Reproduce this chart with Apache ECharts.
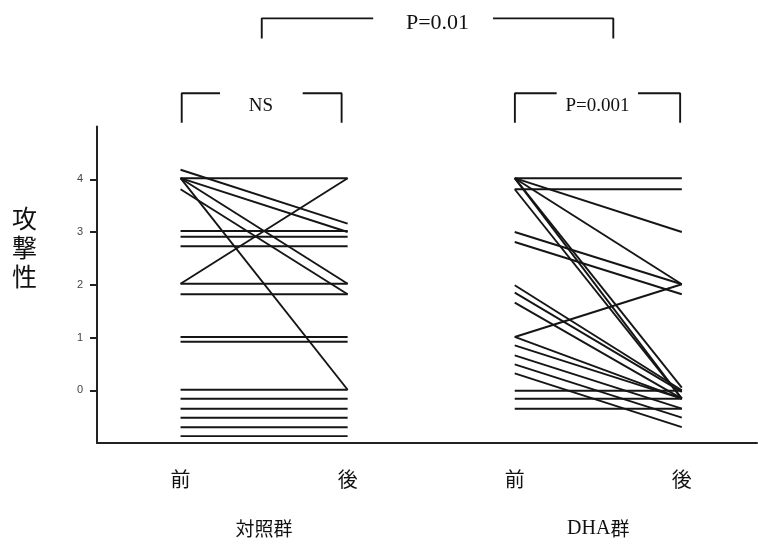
<!DOCTYPE html>
<html><head><meta charset="utf-8">
<script src="https://cdn.jsdelivr.net/npm/echarts@6/dist/echarts.min.js"></script>
<style>html,body{margin:0;padding:0;background:#fff}#c{width:758px;height:545px}</style>
</head><body><div id="c"></div>
<script>
// ---- data ----
var xTickValues = [0, 1, 2, 3];
var xTickLabels = ['前', '後', '前', '後'];
var groupValues = [0.5, 2.5];
var groupLabels = ['対照群', 'DHA群'];
var yTickValues = [0, 1, 2, 3, 4];
var yTitle = '攻撃性';

var leftBefore = [4.18, 4.02, 4.02, 4.02, 3.81, 4.02, 2.02, 3.02, 2.91, 2.73, 2.02, 1.82, 1.01, 0.92, 0.01, -0.16, -0.35, -0.52, -0.70, -0.87];
var leftAfter  = [3.16, 4.02, 3.00, 2.02, 1.82, 0.01, 4.02, 3.02, 2.91, 2.73, 2.02, 1.82, 1.01, 0.92, 0.01, -0.16, -0.35, -0.52, -0.70, -0.87];
var rightBefore = [4.02, 3.81, 4.02, 4.02, 3.00, 2.81, 1.01, 4.02, 4.02, 3.81, 1.99, 1.85, 1.66, 1.01, 0.85, 0.66, 0.49, 0.32, -0.01, -0.16, -0.35];
var rightAfter  = [4.02, 3.81, 3.00, 2.01, 2.01, 1.82, 2.01, 0.05, -0.16, -0.16, 0.00, -0.03, -0.16, -0.16, -0.16, -0.35, -0.52, -0.70, -0.01, -0.16, -0.35];

// significance brackets (in axis units)
var bracketPaths = [
  [[0.007, 5.07], [0.007, 5.63], [0.236, 5.63]],
  [[0.731, 5.63], [0.964, 5.63], [0.964, 5.07]],
  [[2.001, 5.07], [2.001, 5.63], [2.251, 5.63]],
  [[2.738, 5.63], [2.99, 5.63], [2.99, 5.07]],
  [[0.486, 6.67], [0.486, 7.05], [1.153, 7.05]],
  [[1.870, 7.05], [2.590, 7.05], [2.590, 6.67]]
];
var bracketTexts = ['NS', 'P=0.001', 'P=0.01'];
var bracketTextPos = [[0.481, 5.39], [2.495, 5.39], [1.538, 6.96]];
var bracketTextSize = [19, 19, 22];

// ---- build ----
var LW = 1.9;
var series = [];
function addPairs(before, after, x0, x1) {
  for (var i = 0; i < before.length; i++) {
    series.push({
      type: 'line', xAxisIndex: 0, yAxisIndex: 0,
      data: [[x0, before[i]], [x1, after[i]]],
      showSymbol: false, symbol: 'none', silent: true,
      lineStyle: { color: '#151515', width: LW }
    });
  }
}
addPairs(leftBefore, leftAfter, 0, 1);
addPairs(rightBefore, rightAfter, 2, 3);

bracketPaths.forEach(function (p) {
  series.push({
    type: 'line', xAxisIndex: 0, yAxisIndex: 0, data: p, clip: false,
    showSymbol: false, symbol: 'none', silent: true,
    lineStyle: { color: '#151515', width: LW }
  });
});

series.push({
  type: 'scatter', xAxisIndex: 0, yAxisIndex: 0, clip: false, symbolSize: 0, silent: true,
  itemStyle: { opacity: 1 },
  data: bracketTexts.map(function (t, i) {
    return {
      value: bracketTextPos[i], name: t,
      itemStyle: { opacity: 1 },
      label: { show: true, position: 'inside', formatter: t, opacity: 1,
        fontFamily: '"Liberation Serif", serif', fontSize: bracketTextSize[i], color: '#111' }
    };
  })
});

var chart = echarts.init(document.getElementById('c'), null, { renderer: 'canvas' });
chart.setOption({
  animation: false,
  backgroundColor: '#fff',
  grid: { left: 97, right: 1, top: 126.5, bottom: 102, containLabel: false },
  xAxis: [{
    type: 'value', min: -0.5, max: 3.45, position: 'bottom',
    axisLine: { show: true, onZero: false, lineStyle: { color: '#222', width: 2 } },
    axisTick: { show: false },
    splitLine: { show: false },
    axisLabel: {
      show: true, customValues: xTickValues, margin: 26,
      formatter: function (v) { return xTickLabels[xTickValues.indexOf(Math.round(v))]; },
      fontFamily: '"Noto Sans CJK JP", sans-serif', fontSize: 20, color: '#111'
    }
  }, {
    type: 'value', min: -0.5, max: 3.45, position: 'bottom',
    axisLine: { show: false }, axisTick: { show: false }, splitLine: { show: false },
    axisLabel: {
      show: true, customValues: groupValues, margin: 76,
      formatter: function (v) {
        var s = groupLabels[groupValues.indexOf(v)];
        if (s.indexOf('DHA') === 0) return '{s|DHA}{c|' + s.slice(3) + '}';
        return '{c|' + s + '}';
      },
      rich: {
        s: { fontFamily: '"Liberation Serif", serif', fontSize: 20, color: '#111' },
        c: { fontFamily: '"Noto Sans CJK JP", sans-serif', fontSize: 19, color: '#111' }
      }
    }
  }],
  yAxis: [{
    type: 'value', min: -1, max: 5, interval: 1,
    axisLine: { show: true, onZero: false, lineStyle: { color: '#222', width: 2 } },
    axisTick: { show: true, customValues: yTickValues, length: 7, lineStyle: { color: '#222', width: 2 } },
    splitLine: { show: false },
    axisLabel: {
      show: true, customValues: yTickValues, margin: 14,
      fontFamily: '"Liberation Sans", sans-serif', fontSize: 11, color: '#444'
    }
  }],
  graphic: [{
    type: 'text', left: 12, top: 204,
    style: {
      text: yTitle.split('').join('\n'),
      font: '25px "Noto Sans CJK JP", sans-serif',
      lineHeight: 29, fill: '#111'
    }
  }],
  series: series
});
</script></body></html>
